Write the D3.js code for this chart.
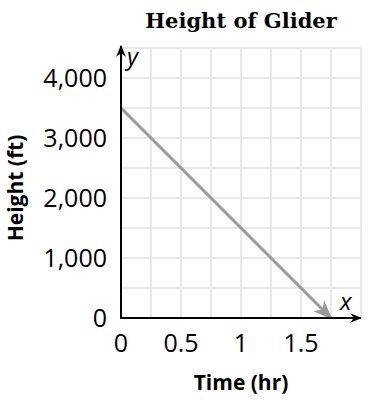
<!DOCTYPE html>
<html>
<head>
<meta charset="utf-8">
<script src="https://cdn.jsdelivr.net/npm/d3@7"></script>
<style>
  body { margin: 0; background: #fff; }
  text { font-family: "Open Sans", "Noto Sans", sans-serif; }
</style>
</head>
<body>
<svg id="chart" width="380" height="410"></svg>
<script>
// data
const lineTimes = [0, 1.75];
const lineHeights = [3500, 0];
const xTicks = [0, 0.5, 1, 1.5];
const yTicks = [0, 1000, 2000, 3000, 4000];
const xGrid = d3.range(0, 2.001, 0.25);
const yGrid = d3.range(0, 4501, 500);

const svg = d3.select("#chart");
const x = d3.scaleLinear().domain([0, 2]).range([121, 361]);
const y = d3.scaleLinear().domain([0, 4500]).range([318, 48]);

const defs = svg.append("defs");
defs.append("marker")
  .attr("id", "axisArrow")
  .attr("viewBox", "0 0 10 10").attr("refX", 9).attr("refY", 5)
  .attr("markerWidth", 6).attr("markerHeight", 6)
  .attr("markerUnits", "strokeWidth").attr("orient", "auto")
  .append("path").attr("d", "M0,1 L10,5 L0,9 L3,5 Z").attr("fill", "#000");
defs.append("marker")
  .attr("id", "lineArrow")
  .attr("viewBox", "0 0 10 10").attr("refX", 9).attr("refY", 5)
  .attr("markerWidth", 6.5).attr("markerHeight", 6.5)
  .attr("markerUnits", "strokeWidth").attr("orient", "auto")
  .append("path").attr("d", "M0,1 L10,5 L0,9 L3,5 Z").attr("fill", "#999");

// grid
const grid = svg.append("g").attr("stroke", "#e2e2e2").attr("stroke-width", 1.5);
grid.selectAll(".gx").data(xGrid).join("line")
  .attr("x1", d => x(d)).attr("x2", d => x(d))
  .attr("y1", y(4500)).attr("y2", y(0));
grid.selectAll(".gy").data(yGrid).join("line")
  .attr("x1", x(0)).attr("x2", x(2))
  .attr("y1", d => y(d)).attr("y2", d => y(d));

// data line
const pts = lineTimes.map((t, i) => [t, lineHeights[i]]);
svg.append("path")
  .attr("d", d3.line().x(d => x(d[0])).y(d => y(d[1]))(pts))
  .attr("stroke", "#999").attr("stroke-width", 3).attr("fill", "none")
  .attr("marker-end", "url(#lineArrow)");

// axes
svg.append("line")
  .attr("x1", x(0)).attr("x2", x(0))
  .attr("y1", y(0) + 1).attr("y2", 46)
  .attr("stroke", "#000").attr("stroke-width", 2)
  .attr("marker-end", "url(#axisArrow)");
svg.append("line")
  .attr("x1", x(0) - 1).attr("y1", y(0))
  .attr("x2", 361).attr("y2", y(0))
  .attr("stroke", "#000").attr("stroke-width", 2)
  .attr("marker-end", "url(#axisArrow)");

// tick labels
svg.selectAll(".yl").data(yTicks).join("text")
  .attr("x", 107).attr("y", d => y(d))
  .attr("dy", "0.36em").attr("text-anchor", "end")
  .attr("font-size", 25).attr("fill", "#000")
  .text(d3.format(","));
svg.selectAll(".xl").data(xTicks).join("text")
  .attr("x", d => x(d)).attr("y", 352)
  .attr("text-anchor", "middle")
  .attr("font-size", 25).attr("fill", "#000")
  .text(d => d);

// axis letters
svg.append("text").attr("x", 127).attr("y", 65)
  .attr("font-size", 24).attr("font-style", "italic").text("y");
svg.append("text").attr("x", 340).attr("y", 310)
  .attr("font-size", 24).attr("font-style", "italic").text("x");

// titles
svg.append("text").attr("x", 241).attr("y", 28)
  .attr("text-anchor", "middle")
  .style("font-family", "'DejaVu Serif', serif")
  .attr("font-size", 21).attr("font-weight", "bold")
  .text("Height of Glider");
svg.append("text").attr("x", 241).attr("y", 390)
  .attr("text-anchor", "middle")
  .attr("font-size", 21).attr("font-weight", "bold")
  .text("Time (hr)");
svg.append("text")
  .attr("transform", "translate(23,188) rotate(-90)")
  .attr("text-anchor", "middle")
  .attr("font-size", 21).attr("font-weight", "bold")
  .text("Height (ft)");
</script>
</body>
</html>
